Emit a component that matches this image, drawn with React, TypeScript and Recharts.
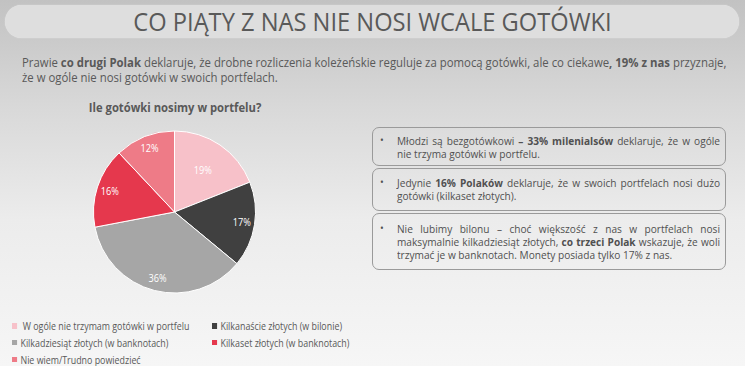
import React from "react";
import { PieChart, Pie, Cell } from "recharts";

const categories = [
  "W ogóle nie trzymam gotówki w portfelu",
  "Kilkanaście złotych (w bilonie)",
  "Kilkadziesiąt złotych (w banknotach)",
  "Kilkaset złotych (w banknotach)",
  "Nie wiem/Trudno powiedzieć",
];
const values = [19, 17, 36, 16, 12];
const colors = ["#f7c1c9", "#404040", "#a6a6a6", "#e5384d", "#ee7b87"];

const title = "CO PIĄTY Z NAS NIE NOSI WCALE GOTÓWKI";
const chartTitle = "Ile gotówki nosimy w portfelu?";

const data = categories.map((name, i) => ({ name, value: values[i] }));

const FONT = '"Open Sans", sans-serif';
const TXT = "#595959";
const NARROW = 0.91;

const RAD = Math.PI / 180;
const renderLabel = (p: any) => {
  const { cx, cy, midAngle, outerRadius, value, index } = p;
  const r = outerRadius * (index === 0 ? 0.62 : 0.84);
  const x = cx + r * Math.cos(-midAngle * RAD);
  const y = cy + r * Math.sin(-midAngle * RAD);
  return (
    <text x={x} y={y} fill="#ffffff" textAnchor="middle" dominantBaseline="central"
      transform={`translate(${x} ${y}) scale(0.92 1) translate(${-x} ${-y})`}
      style={{ fontFamily: FONT, fontSize: 10 }}>
      {value}%
    </text>
  );
};

const lineStyle = (last: boolean): React.CSSProperties => ({
  display: "block",
  whiteSpace: "nowrap",
  textAlign: "justify",
  textAlignLast: last ? "left" : "justify",
});

const BOX_SCALE = 0.92;
const Box = ({ top, height, pad, lines }: { top: number; height: number; pad: number; lines: React.ReactNode[] }) => (
  <div style={{
    position: "absolute", left: 372, top, width: 354, height, boxSizing: "border-box",
    border: "1px solid #9a9a9a", borderRadius: 7,
  }}>
    <div style={{ position: "absolute", left: 7, top: pad, fontSize: 10, lineHeight: "13.4px", color: "#505050" }}>•</div>
    <div style={{
      position: "absolute", left: 24, top: pad, width: 323 / BOX_SCALE, fontSize: 11, lineHeight: "13.4px", color: "#505050",
      transform: `scaleX(${BOX_SCALE})`, transformOrigin: "0 0",
    }}>
      {lines.map((l, i) => <span key={i} style={lineStyle(i === lines.length - 1)}>{l}</span>)}
    </div>
  </div>
);

const legendPos = [
  { left: 12, top: 320 },
  { left: 212, top: 320 },
  { left: 12, top: 336.5 },
  { left: 212, top: 336.5 },
  { left: 12, top: 353.5 },
];

export default function App() {
  return (
    <div style={{
      position: "fixed", left: 0, top: 0, width: 745, height: 366, overflow: "hidden",
      background: "linear-gradient(#c2c2c2 0%, #d9d9d9 30%, #ececec 60%, #f6f6f6 100%)",
      fontFamily: FONT,
    }}>
      <div style={{
        position: "absolute", left: 5, top: 5, width: 734, height: 33, borderRadius: 17,
        background: "#dedede", boxShadow: "0 0 1px #eeeeee",
      }} />
      <div style={{
        position: "absolute", left: 0, top: 5, width: 745, height: 33, lineHeight: "33px",
        textAlign: "center", fontSize: 26, color: TXT, transform: `scaleX(${NARROW})`, transformOrigin: "372.5px 0",
      }}>{title}</div>

      <div style={{
        position: "absolute", left: 22, top: 55, width: 800, fontSize: 12.5, lineHeight: "15px", color: TXT, whiteSpace: "nowrap",
        transform: `scaleX(${NARROW})`, transformOrigin: "0 0",
      }}>
        Prawie <b>co drugi Polak</b> deklaruje, że drobne rozliczenia koleżeńskie reguluje za pomocą gotówki, ale co ciekawe<b>, 19% z nas</b> przyznaje,<br />
        że w ogóle nie nosi gotówki w swoich portfelach.
      </div>

      <div style={{
        position: "absolute", left: 0, top: 99, width: 350, textAlign: "center", fontSize: 12.5, fontWeight: "bold", color: TXT,
        transform: `scaleX(0.9)`, transformOrigin: "175.5px 0",
      }}>
        {chartTitle}
      </div>

      <div style={{ position: "absolute", left: 0, top: 0 }}>
        <PieChart width={350} height={310} margin={{ top: 0, right: 0, bottom: 0, left: 0 }}>
          <Pie data={data} dataKey="value" nameKey="name" cx={174.5} cy={212} outerRadius={81}
            startAngle={90} endAngle={-270} stroke="#ffffff" strokeWidth={1}
            isAnimationActive={false} labelLine={false} label={renderLabel}>
            {data.map((d, i) => <Cell key={d.name} fill={colors[i]} />)}
          </Pie>
        </PieChart>
      </div>

      <Box top={126.5} height={39.5} pad={6} lines={[
        <>Młodzi są bezgotówkowi <b>– 33% milenialsów</b> deklaruje, że w ogóle</>,
        <>nie trzyma gotówki w portfelu.</>,
      ]} />
      <Box top={168} height={43} pad={6.5} lines={[
        <>Jedynie <b>16% Polaków</b> deklaruje, że w swoich portfelach nosi dużo</>,
        <>gotówki (kilkaset złotych).</>,
      ]} />
      <Box top={213} height={57} pad={7.5} lines={[
        <>Nie lubimy bilonu – choć większość z nas w portfelach nosi</>,
        <>maksymalnie kilkadziesiąt złotych, <b>co trzeci Polak</b> wskazuje, że woli</>,
        <>trzymać je w banknotach. Monety posiada tylko 17% z nas.</>,
      ]} />

      {categories.map((c, i) => (
        <div key={c} style={{
          position: "absolute", left: legendPos[i].left, top: legendPos[i].top, fontSize: 10.5, color: TXT, whiteSpace: "nowrap", lineHeight: "12px",
          transform: "scaleX(0.845)", transformOrigin: "0 0",
        }}>
          <span style={{ display: "inline-block", width: 5.5, height: 5.5, background: colors[i], marginRight: 4.5, verticalAlign: "middle", position: "relative", top: -1 }} />
          {i === 0 ? "\u00a0" : ""}{c}
        </div>
      ))}
    </div>
  );
}
